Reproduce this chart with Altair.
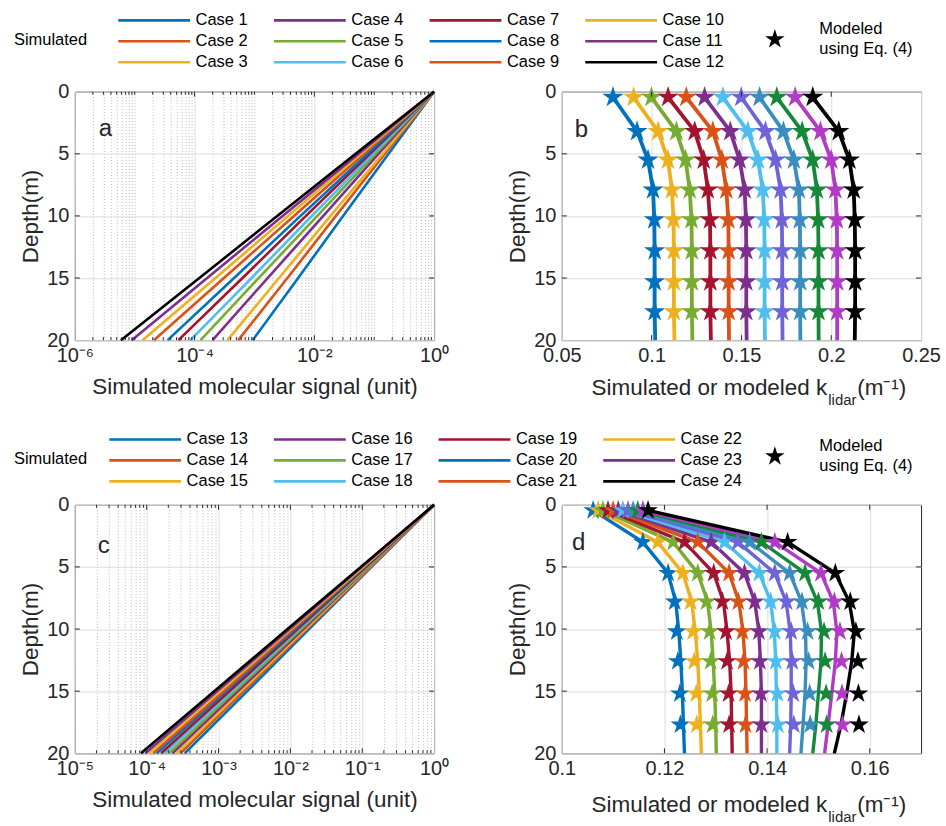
import json
import math

import altair as alt
import pandas as pd

FONT = "Liberation Sans"
INK = "#262626"
GRID = "#dcdcdc"
MINOR = "#b8b8b8"
TICK_FS = 20
TITLE_FS = 22.5
LEG_FS = 16.5

# ---------------------------------------------------------------------------
# Data
# ---------------------------------------------------------------------------
cases_top = [f"Case {i}" for i in range(1, 13)]
cases_bot = [f"Case {i}" for i in range(13, 25)]

# MATLAB default line colours used for the simulated-signal curves
matlab = ["#0072BD", "#D95319", "#EDB120", "#7E2F8E", "#77AC30", "#4DBEEE", "#A2142F"]
signal_colors = [matlab[i % 7] for i in range(11)] + ["#000000"]

# colours of the k_lidar profiles (left to right)
klidar_colors = ["#0072BD", "#EDB120", "#77AC30", "#A2142F", "#D95319", "#7E2F8E",
                 "#4DBEEE", "#6F63D8", "#3B8DBF", "#16883A", "#B03CC6", "#000000"]

# simulated molecular signal, log10 of the signal at each depth
signal_depth = [0, 5, 10, 15, 20]
signal_top_log = [
    [0, -0.76, -1.52, -2.27, -3.03],
    [0, -0.82, -1.64, -2.45, -3.27],
    [0, -0.86, -1.73, -2.59, -3.45],
    [0, -0.93, -1.85, -2.78, -3.70],
    [0, -0.98, -1.95, -2.93, -3.90],
    [0, -1.02, -2.04, -3.05, -4.07],
    [0, -1.07, -2.14, -3.20, -4.27],
    [0, -1.11, -2.23, -3.34, -4.45],
    [0, -1.17, -2.34, -3.51, -4.68],
    [0, -1.22, -2.44, -3.65, -4.87],
    [0, -1.26, -2.53, -3.79, -5.05],
    [0, -1.31, -2.62, -3.92, -5.23],
]
signal_bot_log = [
    [0, -0.87, -1.74, -2.60, -3.47],
    [0, -0.88, -1.77, -2.65, -3.53],
    [0, -0.90, -1.79, -2.69, -3.58],
    [0, -0.91, -1.82, -2.73, -3.64],
    [0, -0.92, -1.85, -2.77, -3.69],
    [0, -0.94, -1.88, -2.81, -3.75],
    [0, -0.95, -1.90, -2.85, -3.80],
    [0, -0.97, -1.93, -2.90, -3.86],
    [0, -0.98, -1.96, -2.93, -3.91],
    [0, -0.99, -1.99, -2.98, -3.97],
    [0, -1.01, -2.01, -3.02, -4.02],
    [0, -1.02, -2.04, -3.06, -4.08],
]

# k_lidar profiles, cases 1-12: modeled (stars) and simulated (line, through the
# stars and down to 20 m)
k_top_depth = [0.45, 3.2, 5.5, 7.9, 10.3, 12.8, 15.3, 17.7]
k_top = [
    [0.0785, 0.0919, 0.0980, 0.1008, 0.1015, 0.1017, 0.1017, 0.1017],
    [0.0900, 0.1036, 0.1091, 0.1113, 0.1122, 0.1124, 0.1124, 0.1124],
    [0.0999, 0.1138, 0.1189, 0.1212, 0.1222, 0.1224, 0.1224, 0.1224],
    [0.1092, 0.1240, 0.1290, 0.1313, 0.1325, 0.1327, 0.1327, 0.1327],
    [0.1193, 0.1341, 0.1391, 0.1416, 0.1427, 0.1429, 0.1429, 0.1429],
    [0.1295, 0.1438, 0.1490, 0.1518, 0.1525, 0.1527, 0.1527, 0.1527],
    [0.1397, 0.1536, 0.1592, 0.1619, 0.1627, 0.1629, 0.1629, 0.1629],
    [0.1499, 0.1634, 0.1690, 0.1718, 0.1725, 0.1727, 0.1727, 0.1727],
    [0.1601, 0.1734, 0.1792, 0.1820, 0.1825, 0.1827, 0.1827, 0.1827],
    [0.1697, 0.1838, 0.1897, 0.1920, 0.1927, 0.1929, 0.1929, 0.1929],
    [0.1799, 0.1940, 0.2000, 0.2023, 0.2031, 0.2033, 0.2033, 0.2033],
    [0.1897, 0.2042, 0.2101, 0.2125, 0.2131, 0.2133, 0.2133, 0.2133],
]
k_top_at_20m = [0.1020, 0.1127, 0.1227, 0.1330, 0.1431, 0.1529,
                0.1631, 0.1729, 0.1828, 0.1930, 0.2033, 0.2131]

# k_lidar profiles, cases 13-24: modeled (stars)
k_bot_depth = [0.45, 3.0, 5.5, 7.8, 10.2, 12.6, 15.2, 17.7]
k_bot_model = [
    [0.1061, 0.1158, 0.1207, 0.1220, 0.1224, 0.1226, 0.1230, 0.1231],
    [0.1071, 0.1187, 0.1236, 0.1251, 0.1256, 0.1258, 0.1262, 0.1263],
    [0.1080, 0.1217, 0.1265, 0.1282, 0.1288, 0.1290, 0.1293, 0.1294],
    [0.1090, 0.1239, 0.1296, 0.1313, 0.1320, 0.1322, 0.1325, 0.1326],
    [0.1100, 0.1265, 0.1326, 0.1344, 0.1352, 0.1354, 0.1357, 0.1358],
    [0.1110, 0.1291, 0.1356, 0.1376, 0.1384, 0.1386, 0.1388, 0.1389],
    [0.1119, 0.1317, 0.1385, 0.1407, 0.1415, 0.1417, 0.1420, 0.1421],
    [0.1129, 0.1343, 0.1415, 0.1438, 0.1447, 0.1449, 0.1451, 0.1452],
    [0.1139, 0.1366, 0.1444, 0.1468, 0.1479, 0.1481, 0.1483, 0.1484],
    [0.1148, 0.1389, 0.1474, 0.1500, 0.1511, 0.1513, 0.1515, 0.1516],
    [0.1158, 0.1415, 0.1505, 0.1531, 0.1542, 0.1545, 0.1546, 0.1547],
    [0.1168, 0.1440, 0.1533, 0.1562, 0.1573, 0.1577, 0.1578, 0.1579],
]
# simulated k_lidar, cases 13-24
k_bot_sim_depth = [0.45, 3.0, 5.5, 7.8, 10.2, 12.6, 15.2, 17.7, 20]
k_bot_sim = [
    [0.1061, 0.1158, 0.1207, 0.1222, 0.1228, 0.1232, 0.1235, 0.1237, 0.1239],
    [0.1071, 0.1187, 0.1236, 0.1253, 0.1260, 0.1265, 0.1268, 0.1270, 0.1272],
    [0.1080, 0.1217, 0.1265, 0.1284, 0.1291, 0.1295, 0.1298, 0.1300, 0.1301],
    [0.1090, 0.1239, 0.1296, 0.1315, 0.1322, 0.1327, 0.1330, 0.1331, 0.1332],
    [0.1100, 0.1265, 0.1326, 0.1345, 0.1353, 0.1357, 0.1359, 0.1360, 0.1361],
    [0.1110, 0.1291, 0.1356, 0.1376, 0.1384, 0.1387, 0.1389, 0.1389, 0.1389],
    [0.1119, 0.1317, 0.1385, 0.1407, 0.1414, 0.1417, 0.1418, 0.1419, 0.1419],
    [0.1129, 0.1343, 0.1415, 0.1437, 0.1445, 0.1447, 0.1447, 0.1446, 0.1444],
    [0.1139, 0.1366, 0.1444, 0.1467, 0.1475, 0.1476, 0.1474, 0.1470, 0.1466],
    [0.1148, 0.1389, 0.1474, 0.1498, 0.1506, 0.1505, 0.1500, 0.1495, 0.1489],
    [0.1158, 0.1415, 0.1505, 0.1529, 0.1536, 0.1533, 0.1526, 0.1519, 0.1512],
    [0.1168, 0.1440, 0.1533, 0.1560, 0.1570, 0.1565, 0.1555, 0.1544, 0.1531],
]

depth_ticks = [0, 5, 10, 15, 20]
k_top_ticks = [0.05, 0.1, 0.15, 0.2, 0.25]
k_bot_ticks = [0.1, 0.12, 0.14, 0.16]

MODEL_LABEL = "Modeled using Eq. (4)"
MODEL_LINES = ["Modeled", "using Eq. (4)"]

# ---------------------------------------------------------------------------
# Shapes
# ---------------------------------------------------------------------------
def star_path(inner=0.38):
    pts = []
    for i in range(10):
        a = -math.pi / 2 + i * math.pi / 5
        r = 1.0 if i % 2 == 0 else inner
        pts.append(f"{r * math.cos(a):.3f},{r * math.sin(a):.3f}")
    return "M" + "L".join(pts) + "Z"


STAR = star_path()
LEGEND_LINE = "M-3.6,0L3.6,0"
SUP = str.maketrans("-0123456789", "⁻⁰¹²³⁴⁵⁶⁷⁸⁹")

W, H = 360, 249
TICK_LEN, MINOR_LEN = 5, 3


# ---------------------------------------------------------------------------
# Helpers
# ---------------------------------------------------------------------------
def column_major(items):
    """Order 12 legend entries so a 4-column legend reads down each column."""
    return [items[r + 3 * c] for r in range(3) for c in range(4)]


def depth_axis():
    return alt.Y(
        "depth:Q",
        scale=alt.Scale(domain=[0, 20], reverse=True, nice=False, zero=False),
        axis=alt.Axis(values=depth_ticks, title="Depth(m)", grid=True,
                      gridColor=GRID, ticks=False, domain=False, labelPadding=6,
                      titlePadding=4, labelFlush=False),
    )


def inner_ticks(xfield, major, minor=()):
    """Short inward tick marks on all four sides of the box."""
    layers = []
    ydf = pd.DataFrame({"depth": depth_ticks[1:-1]})
    for x0, x1 in ((0, TICK_LEN), (W - TICK_LEN, W)):
        layers.append(alt.Chart(ydf).mark_rule(color=INK, strokeWidth=1).encode(
            y="depth:Q", x=alt.value(x0), x2=alt.value(x1)))
    for vals, ln in ((major, TICK_LEN), (minor, MINOR_LEN)):
        if not vals:
            continue
        xdf = pd.DataFrame({xfield: list(vals)})
        for y0, y1 in ((H - ln, H), (0, ln)):
            layers.append(alt.Chart(xdf).mark_rule(color=INK, strokeWidth=1).encode(
                x=f"{xfield}:Q", y=alt.value(y0), y2=alt.value(y1)))
    return layers


def letter_layer(letter, x, depth, xfield):
    df = pd.DataFrame({xfield: [x], "depth": [depth], "t": [letter]})
    return alt.Chart(df).mark_text(align="left", baseline="middle", fontSize=24,
                                   font=FONT, color=INK).encode(
        x=f"{xfield}:Q", y="depth:Q", text="t:N")


def signal_panel(cases, logs, xmin, label_step, legend):
    rows = []
    for c, vals in zip(cases, logs):
        for d, v in zip(signal_depth, vals):
            rows.append({"case": c, "depth": d, "signal": 10.0 ** v})
    df = pd.DataFrame(rows)

    tick_vals = [m * 10.0 ** k for k in range(xmin, 0) for m in range(1, 10)] + [1.0]
    e = "(log(datum.value)/LN10)"
    major = f"abs({e} - round({e})) < 1e-6 && round({e}) % {label_step} == 0"
    labels = ["10" + str(k).translate(SUP) for k in range(xmin, 1)]
    label_expr = f"({major}) ? {json.dumps(labels, ensure_ascii=False)}[round({e}) - ({xmin})] : ''"

    order = column_major(cases)
    col_of = dict(zip(cases, signal_colors))
    x = alt.X(
        "signal:Q",
        scale=alt.Scale(type="log", domain=[10.0 ** xmin, 1.0], nice=False),
        axis=alt.Axis(values=tick_vals, labelExpr=label_expr,
                      title="Simulated molecular signal (unit)", grid=True,
                      gridDash={"condition": {"test": major, "value": [1, 0]}, "value": [1, 2]},
                      gridColor={"condition": {"test": major, "value": GRID}, "value": MINOR},
                      ticks=False, domain=False, labelOverlap=False, labelFlush=False,
                      labelPadding=5, titlePadding=10),
    )
    lines = alt.Chart(df).mark_line(strokeWidth=2.6).encode(
        x=x,
        y=depth_axis(),
        color=alt.Color("case:N", sort=order,
                        scale=alt.Scale(domain=order, range=[col_of[c] for c in order]),
                        legend=legend),
        order=alt.Order("depth:Q"),
    )
    inner = [v for v in tick_vals[1:-1]]
    major_vals = [10.0 ** k for k in range(xmin + 1, 0) if k % label_step == 0]
    minor_vals = [v for v in inner if all(abs(v - m) > 1e-12 for m in major_vals)]
    return [lines] + inner_ticks("signal", major_vals, minor_vals)


def simulated_legend(x, y, title_pad, col_pad):
    return alt.Legend(
        title="Simulated", orient="none", legendX=x, legendY=y, columns=4,
        direction="horizontal", titleOrient="left", titleAnchor="middle",
        titleBaseline="middle", titleFont=FONT, titleFontSize=LEG_FS,
        titleFontWeight="normal", titleColor="#000000", titlePadding=title_pad,
        labelFont=FONT, labelFontSize=LEG_FS, labelColor="#000000", labelOffset=30,
        labelLimit=300, symbolType=LEGEND_LINE, symbolSize=400, symbolStrokeWidth=2.6,
        columnPadding=col_pad, rowPadding=1, padding=0,
    )


def model_legend(x, y):
    return alt.Legend(
        title=None, orient="none", legendX=x, legendY=y, labelExpr="''",
        labelOffset=0, labelFontSize=1, symbolSize=420, symbolFillColor="#000000",
        symbolStrokeColor="#000000", symbolStrokeWidth=0, symbolOpacity=1, padding=0,
    )


def model_label(x, y):
    one = pd.DataFrame({"k": [0]})
    return alt.Chart(one).mark_text(text=MODEL_LINES, align="left", baseline="middle",
                                    lineHeight=20, font=FONT, fontSize=LEG_FS,
                                    color="#000000").encode(x=alt.value(x), y=alt.value(y))


def klidar_panel(cases, star_depth, star_vals, line_depth, line_vals, domain, ticks,
                 star_size, line_width, legend):
    star_rows, line_rows = [], []
    for c, vals in zip(cases, star_vals):
        for d, v in zip(star_depth, vals):
            star_rows.append({"case": c, "depth": d, "k": v, "kind": MODEL_LABEL})
    for c, vals in zip(cases, line_vals):
        for d, v in zip(line_depth, vals):
            line_rows.append({"case": c, "depth": d, "k": v})
    stars_df = pd.DataFrame(star_rows)
    lines_df = pd.DataFrame(line_rows)

    x = alt.X("k:Q", scale=alt.Scale(domain=domain, nice=False, zero=False),
              axis=alt.Axis(values=ticks, format="~g", title=None, grid=True,
                            gridColor=GRID, ticks=False, domain=False,
                            labelFlush=False, labelOverlap=False, labelPadding=5))
    color = alt.Color("case:N", scale=alt.Scale(domain=cases, range=klidar_colors),
                      legend=None)
    lines = alt.Chart(lines_df).mark_line(strokeWidth=line_width).encode(
        x=x, y=depth_axis(), color=color, order=alt.Order("depth:Q"))
    stars = alt.Chart(stars_df).mark_point(filled=True, opacity=1, strokeWidth=0,
                                           size=star_size).encode(
        x="k:Q", y="depth:Q", color=color,
        shape=alt.Shape("kind:N", scale=alt.Scale(domain=[MODEL_LABEL], range=[STAR]),
                        legend=legend))
    inner = [v for v in ticks if domain[0] < v < domain[1]]
    return [lines, stars] + inner_ticks("k", inner)


def klidar_title(x_right, y_mid):
    one = pd.DataFrame({"k": [0]})
    main = alt.Chart(one).mark_text(text="Simulated or modeled k", align="right",
                                    baseline="middle", font=FONT, fontSize=TITLE_FS,
                                    color=INK).encode(x=alt.value(x_right), y=alt.value(y_mid))
    sub = alt.Chart(one).mark_text(text="lidar", align="left", baseline="middle",
                                   font=FONT, fontSize=15, color=INK).encode(
        x=alt.value(x_right + 1), y=alt.value(y_mid + 12))
    unit = alt.Chart(one).mark_text(text="(m⁻¹)", align="left", baseline="middle",
                                    font=FONT, fontSize=TITLE_FS, color=INK).encode(
        x=alt.value(x_right + 30), y=alt.value(y_mid))
    return [main, sub, unit]


# ---------------------------------------------------------------------------
# Panels
# ---------------------------------------------------------------------------
panel_a = alt.layer(
    *signal_panel(cases_top, signal_top_log, -6, 2, simulated_legend(-61, -83, 55, 20)),
    letter_layer("a", 10 ** -5.6, 3.0, "signal"),
).properties(width=W, height=H)

panel_b = alt.layer(
    *klidar_panel(cases_top, k_top_depth, k_top, k_top_depth + [20],
                  [v + [b] for v, b in zip(k_top, k_top_at_20m)],
                  [0.05, 0.25], k_top_ticks, 500, 3.8, model_legend(203, -63)),
    letter_layer("b", 0.0572, 3.05, "k"),
    model_label(258, -63), *klidar_title(266, 297),
).properties(width=W, height=H)

panel_c = alt.layer(
    *signal_panel(cases_bot, signal_bot_log, -5, 1, simulated_legend(-61, -77, 46, 20)),
    letter_layer("c", 10 ** -4.68, 3.3, "signal"),
).properties(width=W, height=H)

panel_d = alt.layer(
    *klidar_panel(cases_bot, k_bot_depth, k_bot_model, k_bot_sim_depth, k_bot_sim,
                  [0.1, 0.17], k_bot_ticks, 430, 3.4, model_legend(203, -59)),
    letter_layer("d", 0.102, 3.1, "k"),
    model_label(258, -59), *klidar_title(266, 301),
).properties(width=W, height=H)


def row(left, right):
    return alt.hconcat(left, right, spacing=128, bounds="flush").resolve_scale(
        color="independent", shape="independent", x="independent", y="independent"
    ).resolve_legend(color="independent", shape="independent")


# with flush bounds the nested rows count as zero height, so the spacing is the
# distance between the tops of the two rows of panels
chart = alt.vconcat(row(panel_a, panel_b), row(panel_c, panel_d), spacing=414,
                    bounds="flush").resolve_scale(
    color="independent", shape="independent", x="independent", y="independent"
).resolve_legend(color="independent", shape="independent").properties(
    padding={"left": 13, "top": 7, "right": 5, "bottom": 5}, background="white"
).configure_view(stroke=INK, strokeWidth=1).configure_axis(
    labelFont=FONT, labelFontSize=TICK_FS, labelColor=INK, titleFont=FONT,
    titleFontSize=TITLE_FS, titleFontWeight="normal", titleColor=INK,
)

chart.save("out.html", embed_options={"renderer": "svg", "actions": False})
